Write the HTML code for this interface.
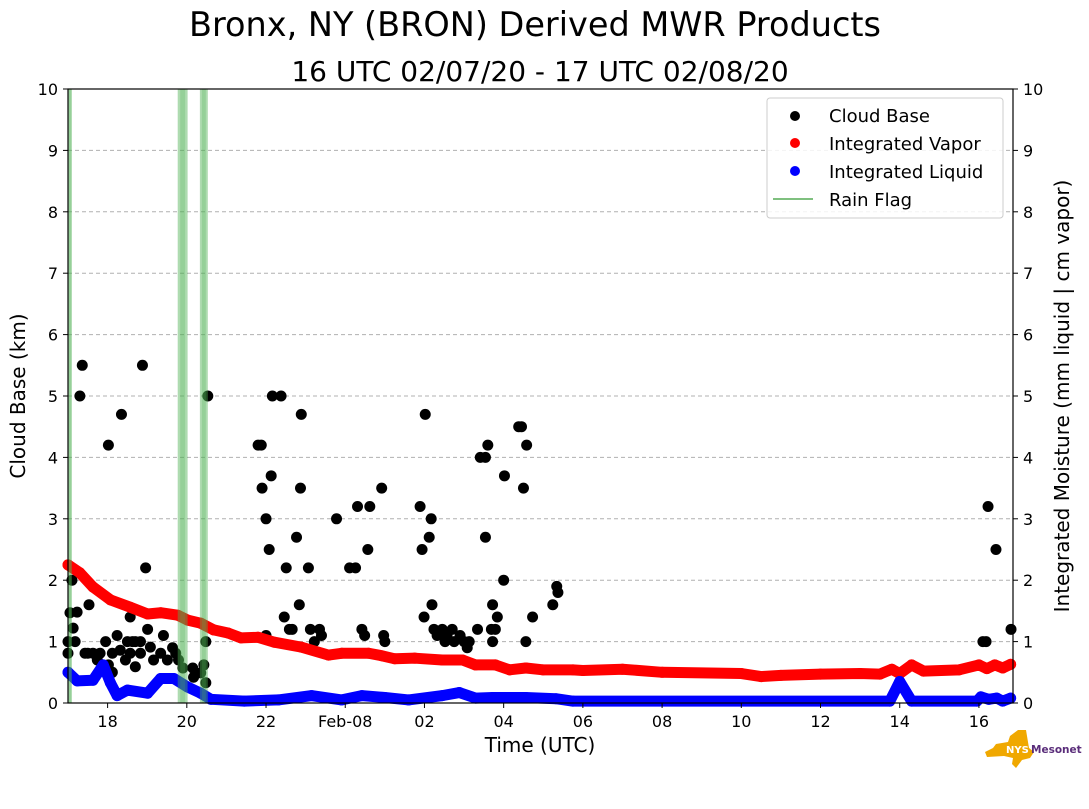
<!DOCTYPE html>
<html><head><meta charset="utf-8"><style>
body{margin:0;background:#fff;}
svg text{font-family:"DejaVu Sans","Liberation Sans",sans-serif;fill:#000;}
</style></head><body>
<svg id="chart" width="1089" height="804" xmlns="http://www.w3.org/2000/svg">
<text x="535" y="36" font-size="33.5" text-anchor="middle">Bronx, NY (BRON) Derived MWR Products</text>
<text x="540" y="81" font-size="28" text-anchor="middle">16 UTC 02/07/20 - 17 UTC 02/08/20</text>
<g id="grid"></g>
<g id="marks"></g>
<g id="axes"></g>
<text x="540" y="752" font-size="20" text-anchor="middle">Time (UTC)</text>
<text transform="translate(25,396) rotate(-90)" font-size="20" text-anchor="middle">Cloud Base (km)</text>
<text transform="translate(1069,396) rotate(-90)" font-size="20" text-anchor="middle">Integrated Moisture (mm liquid | cm vapor)</text>
<g>
<rect x="767" y="98" width="236" height="120" rx="3" fill="#fff" fill-opacity="0.85" stroke="#ccc"/>
<circle cx="795" cy="116" r="5" fill="#000"/>
<text x="829" y="122" font-size="18">Cloud Base</text>
<circle cx="795" cy="143" r="5" fill="#f00"/>
<text x="829" y="150" font-size="18">Integrated Vapor</text>
<circle cx="795" cy="171" r="5" fill="#00f"/>
<text x="829" y="178" font-size="18">Integrated Liquid</text>
<line x1="773" y1="199" x2="813" y2="199" stroke="#7fc07f" stroke-width="2"/>
<text x="829" y="206" font-size="18">Rain Flag</text>
</g>
<g>
<polygon points="996,744 1008,742 1010,736 1018,730 1026,730 1029,748 1034,752 1030,758 1022,760 1016,768 1012,764 1013,758 1004,756 987,757 985,752 993,748" fill="#f0a800"/>
<text x="1006" y="753" font-size="10" font-weight="bold" style="fill:#fff">NYS</text>
<text x="1031" y="753" font-size="10.5" font-weight="bold" style="fill:#5a2d7a">Mesonet</text>
</g>
</svg>
<script>
// time in hours since 17 UTC 02/07/20
const cbTimes=[0.36,0.30,1.02,1.35,1.88,1.96,3.53,3.48,0.05,0.23,0.13,0.53,0.10,0.43,0.63,0.81,0.74,0.86,1.02,1.12,1.24,1.32,1.45,1.57,1.50,1.63,1.70,1.83,1.70,1.57,1.83,2.01,2.08,2.16,2.34,2.41,2.51,2.64,2.72,2.79,2.90,3.15,3.17,3.35,3.43,3.48,0,0,0.18,0.50,1.12,0.95,
4.80,4.88,4.90,5.00,5.13,5.08,5.16,5.38,5.51,5.77,5.89,5.87,6.07,5.84,5.46,5.59,5.66,5.00,6.12,6.35,6.22,6.40,6.78,7.11,7.26,7.31,7.42,7.49,7.57,7.62,7.92,7.97,8.00,
8.89,8.94,9.02,8.99,9.12,9.17,9.19,9.24,9.32,9.45,9.52,9.57,9.70,9.75,9.90,10.00,10.08,10.13,10.34,10.41,10.54,10.54,10.60,10.69,10.72,10.84,10.79,10.72,11.02,11.00,11.38,11.45,11.50,11.58,11.56,11.73,12.24,12.34,12.37,
23.1,23.18,23.23,23.43,23.81];
const cbValues=[5.5,5.0,4.2,4.7,5.5,2.2,5.0,1.0,1.47,1.48,1.22,1.6,2.0,0.81,0.81,0.81,0.7,0.57,0.62,0.5,1.1,0.86,0.7,1.4,1.0,1.0,1.0,1.0,0.59,0.81,0.81,1.2,0.91,0.7,0.81,1.1,0.7,0.9,0.81,0.7,0.57,0.57,0.42,0.49,0.62,0.33,0.81,1.0,1.0,0.81,0.81,1.0,
4.2,4.2,3.5,3.0,3.7,2.5,5.0,5.0,2.2,2.7,4.7,3.5,2.2,1.6,1.4,1.2,1.2,1.1,1.2,1.2,1.0,1.1,3.0,2.2,2.2,3.2,1.2,1.1,2.5,3.2,3.5,1.1,1.0,
3.2,2.5,4.7,1.4,2.7,3.0,1.6,1.2,1.1,1.2,1.0,1.1,1.2,1.0,1.1,1.0,0.9,1.0,1.2,4.0,4.0,2.7,4.2,1.2,1.6,1.4,1.2,1.0,3.7,2.0,4.5,4.5,3.5,4.2,1.0,1.4,1.6,1.9,1.8,
1.0,1.0,3.2,2.5,1.2];
const vapTimes=[0,0.30,0.63,1.07,1.57,2.01,2.34,2.77,3.02,3.35,3.68,4.04,4.37,4.80,5.21,5.89,6.58,6.91,7.59,7.92,8.25,8.76,9.45,9.96,10.29,10.79,11.15,11.56,11.99,12.75,13.0,14.0,15.0,17.0,17.5,18.0,19.0,20.0,20.5,20.8,21.0,21.3,21.6,22.5,23.0,23.2,23.4,23.6,23.8];
const vapValues=[2.25,2.12,1.89,1.68,1.56,1.45,1.47,1.43,1.35,1.30,1.19,1.14,1.06,1.07,0.99,0.91,0.78,0.81,0.81,0.77,0.72,0.73,0.70,0.70,0.62,0.62,0.54,0.57,0.54,0.54,0.53,0.55,0.50,0.48,0.43,0.45,0.47,0.48,0.47,0.55,0.48,0.62,0.52,0.54,0.62,0.56,0.62,0.57,0.63];
const liqTimes=[0,0.23,0.63,0.89,1.07,1.24,1.5,2.01,2.34,2.67,3.02,3.35,3.61,4.45,5.31,6.15,6.91,7.42,8.0,8.6,9.45,9.88,10.29,10.72,11.56,12.32,12.75,20.75,21.0,21.3,22.95,23.05,23.25,23.45,23.6,23.8];
const liqValues=[0.5,0.36,0.37,0.62,0.33,0.12,0.21,0.16,0.40,0.40,0.26,0.16,0.06,0.03,0.05,0.12,0.05,0.12,0.09,0.05,0.12,0.17,0.08,0.09,0.09,0.07,0.03,0.03,0.35,0.03,0.03,0.10,0.06,0.08,0.03,0.08];
const rainStart=[0.0,2.77,3.33];
const rainEnd=[0.1,3.02,3.53];
const xTickHours=[1,3,5,7,9,11,13,15,17,19,21,23];
const xTickLabels=["18","20","22","Feb-08","02","04","06","08","10","12","14","16"];
const yTicks=[0,1,2,3,4,5,6,7,8,9,10];

const NS="http://www.w3.org/2000/svg";
const L=68,R=1013,T=89,B=703,XMAX=23.86;
const xs=t=>L+(t/XMAX)*(R-L);
const ys=v=>B-(v/10)*(B-T);
function mk(tag,attrs,parent){const e=document.createElementNS(NS,tag);for(const k in attrs)e.setAttribute(k,attrs[k]);parent.appendChild(e);return e;}
const grid=document.getElementById('grid'),marks=document.getElementById('marks'),axes=document.getElementById('axes');

yTicks.forEach(v=>{
  if(v>0&&v<10){const g=mk('line',{x1:L,x2:R,y1:ys(v),y2:ys(v),stroke:'#b0b0b0','stroke-dasharray':'4,3','stroke-width':1},grid);
  
  }
  const tl=mk('text',{x:L-10,y:ys(v)+6,'font-size':16,'text-anchor':'end'},axes);tl.textContent=v;
  
  
  const tr=mk('text',{x:R+10,y:ys(v)+6,'font-size':16},axes);tr.textContent=v;
  
  
  mk('line',{x1:L-5,x2:L,y1:ys(v),y2:ys(v),stroke:'#000'},axes);
  mk('line',{x1:R,x2:R+5,y1:ys(v),y2:ys(v),stroke:'#000'},axes);
});
xTickHours.forEach((h,i)=>{
  mk('line',{x1:xs(h),x2:xs(h),y1:B,y2:B+5,stroke:'#000'},axes);
  const t=mk('text',{x:xs(h),y:B+24,'font-size':16,'text-anchor':'middle'},axes);t.textContent=xTickLabels[i];
  
  
});
mk('rect',{x:L,y:T,width:R-L,height:B-T,fill:'none',stroke:'#000','stroke-width':1.2},axes);

function series(times,vals,color,name){
  const pts=times.map((t,i)=>xs(t)+','+ys(vals[i])).join(' ');
  const pl=mk('polyline',{points:pts,fill:'none',stroke:color,'stroke-width':11,'stroke-linejoin':'round','stroke-linecap':'round'},marks);
  
  
  times.forEach((t,i)=>{const c=mk('circle',{cx:xs(t),cy:ys(vals[i]),r:5.5,fill:color},marks);
    
    });
}
cbTimes.forEach((t,i)=>{const c=mk('circle',{cx:xs(t),cy:ys(cbValues[i]),r:5.5,fill:'#000'},marks);
  
  });
series(vapTimes,vapValues,'#ff0000','integrated-vapor');
series(liqTimes,liqValues,'#0000ff','integrated-liquid');
rainStart.forEach((s,i)=>{
  const w=xs(rainEnd[i])-xs(s);
  const r=mk('rect',{x:xs(s),y:T,width:w,height:B-T,fill:'#4caf50','fill-opacity':0.45},marks);
  
  
  mk('rect',{x:xs(s)+w*0.25,y:T,width:w*0.5,height:B-T,fill:'#4caf50','fill-opacity':0.25},marks);
});
</script>
</body></html>
